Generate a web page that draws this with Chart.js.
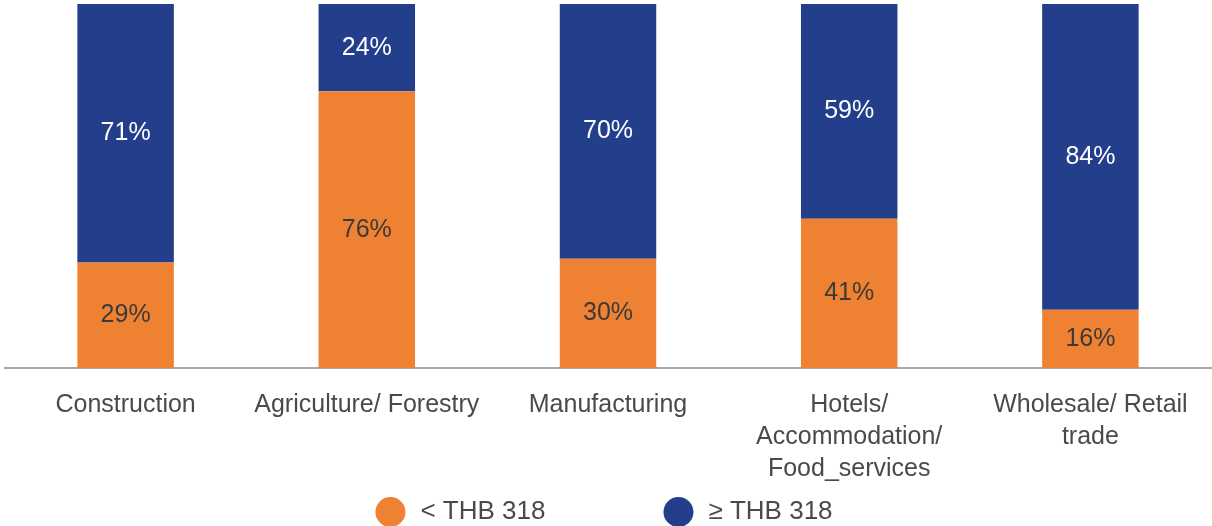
<!DOCTYPE html>
<html>
<head>
<meta charset="utf-8">
<title>Wages by sector</title>
<script src="https://cdn.jsdelivr.net/npm/chart.js@4.4.1/dist/chart.umd.min.js"></script>
<style>
  html, body { margin: 0; padding: 0; background: #fff; }
  #wrap { width: 1212px; height: 526px; }
</style>
</head>
<body>
<div id="wrap"><canvas id="sectorChart"></canvas></div>
<script>
// Sectors and the share of workers on each side of THB 318
var sectors = ['Construction', 'Agriculture/ Forestry', 'Manufacturing',
    ['Hotels/', 'Accommodation/', 'Food_services'], ['Wholesale/ Retail', 'trade']];
var belowShare = [29, 76, 30, 41, 16];
var aboveShare = [71, 24, 70, 59, 84];
var seriesNames = ['< THB 318', '\u2265 THB 318'];

var orange = '#EF8132';
var blue = '#233F8B';
var fontFamily = "'Liberation Sans', Arial, sans-serif";

// Writes the percentage in the middle of every bar segment
var segmentLabels = {
    id: 'segmentLabels',
    afterDatasetsDraw: function (chart) {
        var ctx = chart.ctx;
        ctx.save();
        ctx.font = '25px ' + fontFamily;
        ctx.textAlign = 'center';
        ctx.textBaseline = 'middle';
        chart.data.datasets.forEach(function (ds, di) {
            var meta = chart.getDatasetMeta(di);
            ctx.fillStyle = di === 0 ? '#3a3a3a' : '#ffffff';
            meta.data.forEach(function (bar, i) {
                var mid = (bar.y + bar.base) / 2;
                ctx.fillText(ds.data[i] + '%', bar.x, mid);
            });
        });
        ctx.restore();
    }
};

// Legend with round markers, centred under the plot
var roundLegend = {
    id: 'roundLegend',
    afterDraw: function (chart) {
        var ctx = chart.ctx;
        var area = chart.chartArea;
        var radius = 15;
        var textGap = 15;
        var itemGap = 118;
        ctx.save();
        ctx.font = '26px ' + fontFamily;
        ctx.textBaseline = 'middle';
        ctx.textAlign = 'left';
        var items = chart.data.datasets.map(function (ds) {
            var w = radius * 2 + textGap + ctx.measureText(ds.label).width;
            return { label: ds.label, color: ds.backgroundColor, width: w };
        });
        var total = items.reduce(function (s, it) { return s + it.width; }, 0) + itemGap * (items.length - 1);
        var x = (area.left + area.right) / 2 - total / 2 - 4;
        var y = chart.height - 14;
        items.forEach(function (it) {
            ctx.fillStyle = it.color;
            ctx.beginPath();
            ctx.arc(x + radius, y, radius, 0, Math.PI * 2);
            ctx.fill();
            ctx.fillStyle = '#4a4a4a';
            ctx.fillText(it.label, x + radius * 2 + textGap, y);
            x += it.width + itemGap;
        });
        ctx.restore();
    }
};

var ctx = document.getElementById('sectorChart').getContext('2d');
var sectorChart = new Chart(ctx, {
    type: 'bar',
    data: {
        labels: sectors,
        datasets: [
            { label: seriesNames[0], data: belowShare, backgroundColor: orange },
            { label: seriesNames[1], data: aboveShare, backgroundColor: blue }
        ]
    },
    plugins: [segmentLabels, roundLegend],
    options: {
        responsive: true,
        maintainAspectRatio: false,
        animation: false,
        layout: {
            padding: { top: 4, left: 5, right: 1, bottom: 20 }
        },
        datasets: {
            bar: { categoryPercentage: 1, barPercentage: 0.4 }
        },
        scales: {
            x: {
                stacked: true,
                grid: { display: false, drawTicks: false },
                border: { display: true, color: '#a6a6a6', width: 2 },
                ticks: {
                    color: '#4a4a4a',
                    padding: 21,
                    font: { family: fontFamily, size: 25, lineHeight: 1.28 }
                }
            },
            y: {
                stacked: true,
                display: false,
                min: 0,
                max: 100
            }
        },
        plugins: {
            legend: { display: false },
            tooltip: { enabled: false }
        }
    }
});
</script>
</body>
</html>
